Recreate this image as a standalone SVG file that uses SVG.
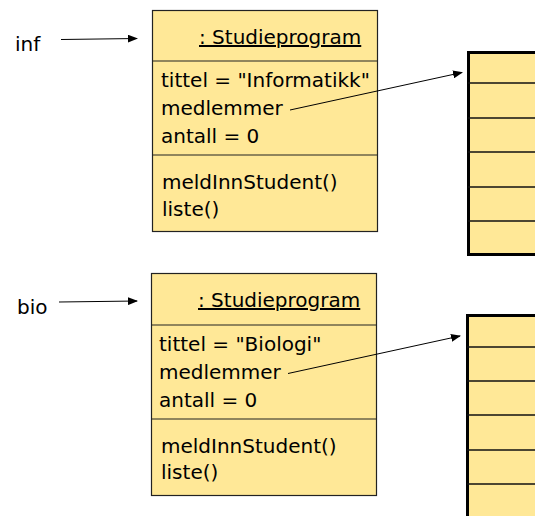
<svg xmlns="http://www.w3.org/2000/svg" width="535" height="516" viewBox="0 0 535 516">
<style>
text{font-family:"DejaVu Sans","Liberation Sans",sans-serif;font-size:20px;fill:#000}
.box{fill:#FFE897;stroke:#222;stroke-width:1.2}
.div{stroke:#222;stroke-width:1.2}
.arr{fill:#FFE897;stroke:#000;stroke-width:3}
.row{stroke:#111;stroke-width:1.5}
.c{stroke:#000;stroke-width:1;fill:none;marker-end:url(#ah)}
</style>
<defs>
<marker id="ah" markerWidth="10" markerHeight="8" refX="9" refY="4" orient="auto" markerUnits="userSpaceOnUse">
<path d="M0,0 L10,4 L0,8 z" fill="#000"/>
</marker>
</defs>
<rect width="535" height="516" fill="#fff"/>
<g id="inf">
<text x="15" y="51">inf</text>
</g>
<g id="bio">
<text x="17" y="314">bio</text>
</g>
<g id="obj-inf">
<rect class="box" x="152.5" y="10.5" width="225" height="221"/>
<line class="div" x1="152.5" y1="61" x2="377.5" y2="61"/>
<line class="div" x1="152.5" y1="155" x2="377.5" y2="155"/>
<text x="199" y="44" text-decoration="underline">: Studieprogram</text>
<text x="161" y="87">tittel = "Informatikk"</text>
<text x="161" y="115">medlemmer</text>
<text x="161" y="143">antall = 0</text>
<text x="162" y="189">meldInnStudent()</text>
<text x="162" y="216">liste()</text>
</g>
<g id="obj-bio">
<rect class="box" x="151.5" y="273.5" width="225" height="222"/>
<line class="div" x1="151.5" y1="325" x2="376.5" y2="325"/>
<line class="div" x1="151.5" y1="419" x2="376.5" y2="419"/>
<text x="198" y="307" text-decoration="underline">: Studieprogram</text>
<text x="159" y="351">tittel = "Biologi"</text>
<text x="159" y="379">medlemmer</text>
<text x="159" y="407">antall = 0</text>
<text x="161" y="453">meldInnStudent()</text>
<text x="161" y="479">liste()</text>
</g>
<g id="array-inf">
<rect class="arr" x="468.5" y="52.5" width="100" height="202"/>
<line class="row" x1="468" y1="83" x2="535" y2="83"/>
<line class="row" x1="468" y1="118" x2="535" y2="118"/>
<line class="row" x1="468" y1="152" x2="535" y2="152"/>
<line class="row" x1="468" y1="187" x2="535" y2="187"/>
<line class="row" x1="468" y1="221" x2="535" y2="221"/>
</g>
<g id="array-bio">
<rect class="arr" x="467.5" y="315.5" width="100" height="230"/>
<line class="row" x1="467" y1="347" x2="535" y2="347"/>
<line class="row" x1="467" y1="381" x2="535" y2="381"/>
<line class="row" x1="467" y1="415" x2="535" y2="415"/>
<line class="row" x1="467" y1="450" x2="535" y2="450"/>
<line class="row" x1="467" y1="484" x2="535" y2="484"/>
</g>
<g id="connectors">
<line class="c" x1="61" y1="39.5" x2="137" y2="38.5"/>
<line class="c" x1="59" y1="302" x2="137" y2="301"/>
<line class="c" x1="290" y1="110" x2="462" y2="72.5"/>
<line class="c" x1="288" y1="373.5" x2="460" y2="336"/>
</g>
</svg>
